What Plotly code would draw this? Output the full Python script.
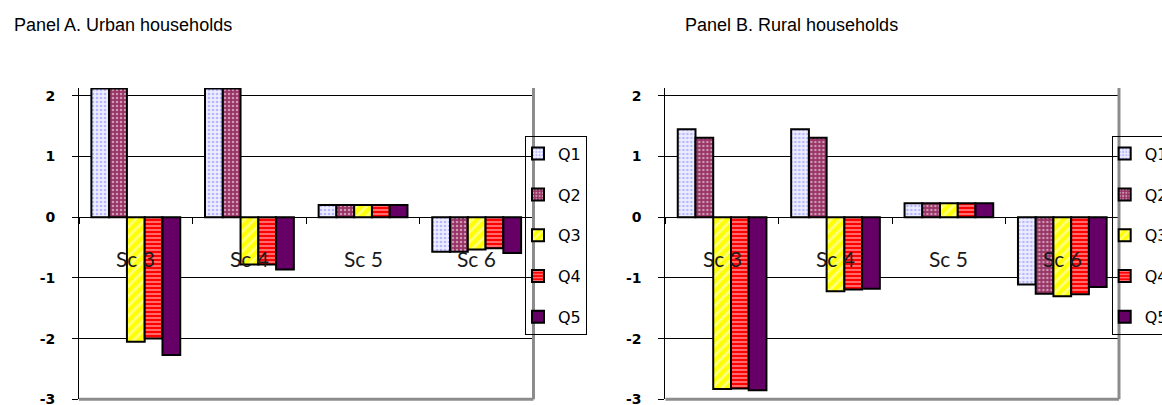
import plotly.graph_objects as go

# scenario categories and quintile series
categories = ["Sc 3", "Sc 4", "Sc 5", "Sc 6"]
quintiles = ["Q1", "Q2", "Q3", "Q4", "Q5"]

# Panel A: urban households (Q1/Q2 for Sc 3 and Sc 4 run off the top of the axis)
urban_q1 = [2.12, 2.12, 0.20, -0.57]
urban_q2 = [2.12, 2.12, 0.20, -0.57]
urban_q3 = [-2.05, -0.78, 0.20, -0.53]
urban_q4 = [-2.00, -0.78, 0.20, -0.51]
urban_q5 = [-2.27, -0.86, 0.20, -0.59]

# Panel B: rural households
rural_q1 = [1.45, 1.45, 0.23, -1.11]
rural_q2 = [1.31, 1.31, 0.23, -1.26]
rural_q3 = [-2.83, -1.22, 0.23, -1.30]
rural_q4 = [-2.82, -1.19, 0.23, -1.27]
rural_q5 = [-2.85, -1.18, 0.23, -1.15]

y_ticks = [-3, -2, -1, 0, 1, 2]
y_range = [-3, 2.13]

urban = [urban_q1, urban_q2, urban_q3, urban_q4, urban_q5]
rural = [rural_q1, rural_q2, rural_q3, rural_q4, rural_q5]

# Excel-like fill patterns for Q1..Q5
patterns = [
    dict(shape=".", bgcolor="#eeeeff", fgcolor="#7f7fff", size=4, solidity=0.35),
    dict(shape=".", bgcolor="#993366", fgcolor="#ffffff", size=4, solidity=0.3),
    dict(shape="/", bgcolor="#ffff00", fgcolor="#ffffff", size=7, solidity=0.4),
    dict(shape="-", bgcolor="#ff0000", fgcolor="#ffffff", size=4, solidity=0.42),
    dict(shape="", bgcolor="#660066", fgcolor="#660066", size=4, solidity=1),
]
base_colors = ["#eeeeff", "#993366", "#ffff00", "#ff0000", "#660066"]

W, H = 1162, 405
dom_a = [79 / W, 533.5 / W]
dom_b = [665.4 / W, 1119 / W]
dom_y = [1 - 399.3 / H, 1 - 88 / H]
zero_pos = dom_y[0] + (0 - y_range[0]) / (y_range[1] - y_range[0]) * (dom_y[1] - dom_y[0])

fig = go.Figure()

for i, q in enumerate(quintiles):
    fig.add_trace(go.Bar(
        x=categories, y=urban[i], name=q, xaxis="x", yaxis="y", legend="legend",
        legendgroup="a" + q,
        marker=dict(color=base_colors[i], pattern=patterns[i], line=dict(color="black", width=2)),
    ))
for i, q in enumerate(quintiles):
    fig.add_trace(go.Bar(
        x=categories, y=rural[i], name=q, xaxis="x2", yaxis="y2", legend="legend2",
        legendgroup="b" + q,
        marker=dict(color=base_colors[i], pattern=patterns[i], line=dict(color="black", width=2)),
    ))

xax = dict(type="category", anchor="free", position=zero_pos, showline=True, linecolor="black",
           linewidth=1, ticks="outside", tickson="boundaries", ticklen=6, tickcolor="black",
           showticklabels=False, showgrid=False, zeroline=False, fixedrange=True)
yax = dict(range=y_range, tickvals=y_ticks, ticktext=[str(v) for v in y_ticks],
           ticklabelstandoff=14, ticklabeloverflow="allow",
           showgrid=True, gridcolor="black", gridwidth=1, zeroline=True, zerolinecolor="black",
           zerolinewidth=1, showline=True, linecolor="black", linewidth=1, ticks="outside",
           ticklen=6, tickcolor="black",
           tickfont=dict(family="DejaVu Sans", size=14, color="black", weight="bold"))

leg = dict(bgcolor="rgba(255,255,255,0)", bordercolor="black", borderwidth=1,
           font=dict(family="DejaVu Sans", size=16, color="black"),
           xanchor="left", yanchor="top", tracegroupgap=17, itemclick=False,
           indentation=-8)

fig.update_layout(
    width=W, height=H,
    margin=dict(l=0, r=0, t=0, b=0, autoexpand=False),
    paper_bgcolor="white", plot_bgcolor="white",
    barmode="group", bargap=0.218, bargroupgap=0,
    xaxis=dict(domain=dom_a, **xax),
    yaxis=dict(domain=dom_y, anchor="x", **yax),
    xaxis2=dict(domain=dom_b, **xax),
    yaxis2=dict(domain=dom_y, anchor="x2", **yax),
    legend=dict(x=525 / W, y=1 - 135.7 / H, **leg),
    legend2=dict(x=1111.7 / W, y=1 - 135.7 / H, **leg),
    showlegend=True,
)

# plot-area frame (grey right and bottom edges)
for xr, yr in [("x domain", "y domain"), ("x2 domain", "y2 domain")]:
    fig.add_shape(type="line", xref=xr, yref=yr, x0=1, x1=1, y0=0, y1=1,
                  line=dict(color="#8c8c8c", width=3))
    fig.add_shape(type="line", xref=xr, yref=yr, x0=0, x1=1, y0=0, y1=0,
                  line=dict(color="#8c8c8c", width=3))

# category labels sit inside the plot, just below the zero line
for xr, yr in [("x", "y"), ("x2", "y2")]:
    for c in categories:
        fig.add_annotation(x=c, y=-0.68, xref=xr, yref=yr, text=c, showarrow=False,
                           font=dict(family="Lato", size=21, color="#1a1a1a"))

# panel titles
fig.add_annotation(x=11.7 / W, y=1 - 25 / H, xref="paper", yref="paper", xanchor="left",
                   yanchor="middle", text="Panel A. Urban households", showarrow=False,
                   font=dict(family="Liberation Sans", size=18, color="black"))
fig.add_annotation(x=682.7 / W, y=1 - 25 / H, xref="paper", yref="paper", xanchor="left",
                   yanchor="middle", text="Panel B. Rural households", showarrow=False,
                   font=dict(family="Liberation Sans", size=18, color="black"))

# drop the default page margin so the figure sits at the window's top-left corner
fig.write_html("out.html", config={"displayModeBar": False},
               post_script="document.body.style.margin='0px';")
